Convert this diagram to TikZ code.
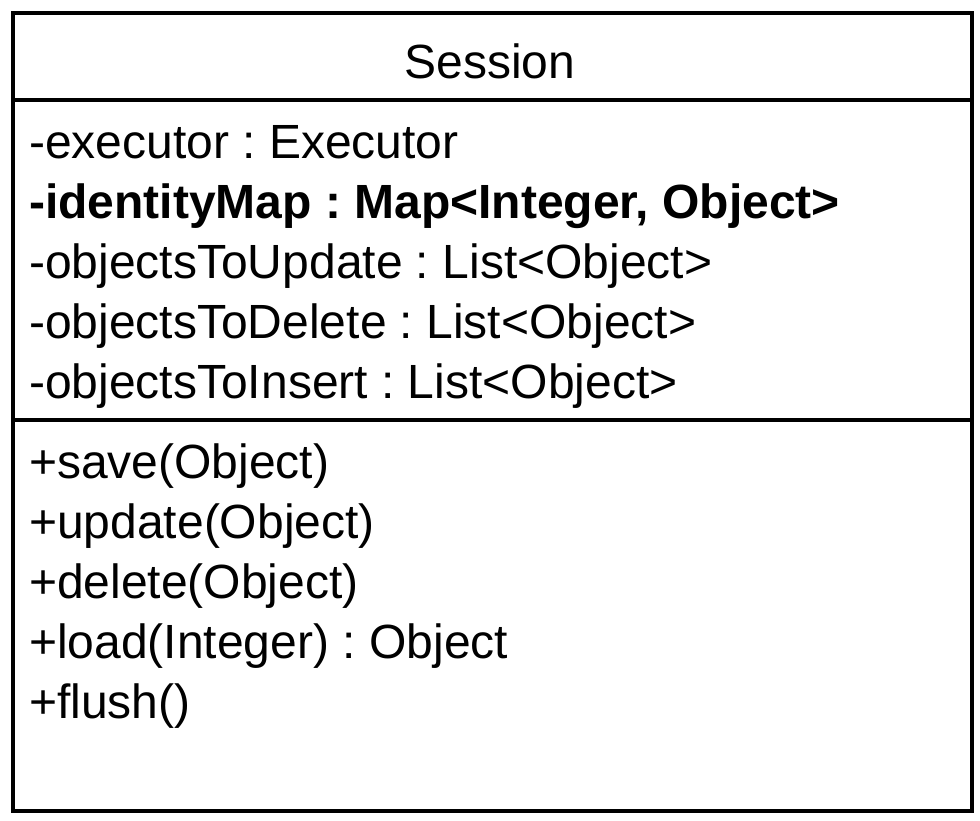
\documentclass[tikz,border=0pt]{standalone}
\usepackage{fontspec}
\setmainfont{Liberation Sans}
\usepackage{tikz}
\frenchspacing

\begin{document}
\begin{tikzpicture}[x=1pt, y=-1pt,
            member/.style = {anchor=base west, inner sep=0pt, font=\fontsize{48}{60}\selectfont},
            title/.style = {anchor=base, inner sep=0pt, font=\fontsize{48}{60}\selectfont},
            frame/.style = {draw=black, line width=4pt}]
        \useasboundingbox (0,0) rectangle (980,820);
        \draw[frame] (12.5,12.5) rectangle (971.5,811);
        \draw[frame] (12.5,100) -- (969.5,100);
        \draw[frame] (12.5,420) -- (969.5,420);

        \node[title] (name) at (490,78) {Session};

        \node[member] (executor) at (29,158) {-executor : Executor};
        \node[member] (identity) at (29,218) {\bfseries -identityMap : Map<Integer, Object>};
        \node[member] (update) at (29,278) {-objectsToUpdate : List<Object>};
        \node[member] (delete) at (29,338) {-objectsToDelete : List<Object>};
        \node[member] (insert) at (29,398) {-objectsToInsert : List<Object>};

        \node[member] (save) at (29,478) {+save(Object)}; % methods part
        \node[member] (updatem) at (29,538) {+update(Object)};
        \node[member] (deletem) at (29,598) {+delete(Object)};
        \node[member] (load) at (29,658) {+load(Integer) : Object};
        \node[member] (flush) at (29,718) {+flush()};
        \end{tikzpicture}
\end{document}
